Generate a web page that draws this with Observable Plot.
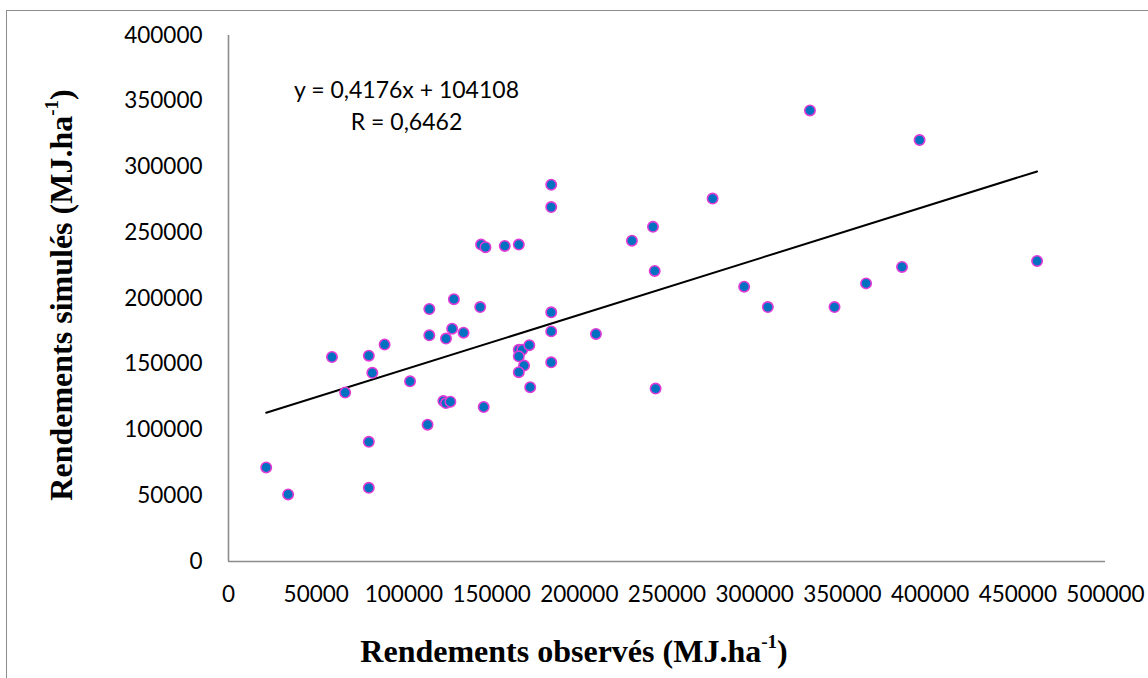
<!DOCTYPE html>
<html><head><meta charset="utf-8">
<script src="https://cdn.jsdelivr.net/npm/d3@7"></script>
<script src="https://cdn.jsdelivr.net/npm/@observablehq/plot@0.6"></script>
<style>
html,body{margin:0;padding:0;background:#fff;}
#wrap{position:relative;width:1148px;height:678px;overflow:hidden;}
#frame{position:absolute;left:6px;top:10px;width:2000px;height:2000px;border-left:1.5px solid #8c8c8c;border-top:1.5px solid #8c8c8c;box-sizing:border-box;}
#chart{position:absolute;left:0;top:0;}
</style></head><body>
<div id="wrap"><div id="frame"></div><div id="chart"></div></div>
<script>
// Observed yields (x) and simulated yields (y), MJ.ha-1
const observed = [21500, 34000, 80000, 80000, 66500, 59000, 80000, 82000, 89000, 103500,
  113500, 114500, 114500, 122500, 124000, 126500, 124000, 127500, 128500, 134000,
  143500, 145500, 165500, 167500, 165500, 171500, 168500, 165500, 172000, 184000,
  184000, 184000, 209500, 184000, 184000, 144000, 146500, 157500, 165500, 230000,
  242000, 243000, 243500, 276000, 331500, 394000, 461000, 384000, 363500, 345500,
  307500, 294000];
const simulated = [71500, 51000, 56000, 91000, 128500, 155500, 156500, 143500, 165000, 137000,
  104000, 172000, 192000, 122000, 120500, 121500, 169500, 177000, 199500, 174000,
  193500, 117500, 161000, 161000, 156000, 164500, 149000, 144000, 132500, 189500,
  175000, 151500, 173000, 286500, 269500, 241000, 239000, 240000, 241000, 244000,
  254500, 221000, 131500, 276000, 343000, 320500, 228500, 224000, 211500, 193500,
  193500, 209000];
const xTicks = [0, 50000, 100000, 150000, 200000, 250000, 300000, 350000, 400000, 450000, 500000];
const yTicks = [0, 50000, 100000, 150000, 200000, 250000, 300000, 350000, 400000];
const trendSlope = 0.4176;
const trendIntercept = 104108;
const equationText = "y = 0,4176x + 104108";
const rText = "R = 0,6462";
const xTitleText = "Rendements observés (MJ.ha";
const yTitleText = "Rendements simulés (MJ.ha";
const unitExponent = "-1";

const points = observed.map((x, i) => ({x, y: simulated[i]}));
const xExtent = d3.extent(observed);
const trend = xExtent.map(x => ({x, y: trendSlope * x + trendIntercept}));

const chart = Plot.plot({
  width: 1148,
  height: 678,
  marginLeft: 228,
  marginRight: 43,
  marginTop: 35,
  marginBottom: 117,
  x: {domain: [0, 500000]},
  y: {domain: [0, 400000]},
  style: {fontFamily: "Lato, 'Open Sans', sans-serif", fontSize: "22.5px", color: "#000", background: "transparent", overflow: "visible"},
  marks: [
    Plot.axisX({ticks: xTicks, tickSize: 0, tickPadding: 25, tickFormat: d => String(d), label: null, fill: "#000"}),
    Plot.axisY({ticks: yTicks, tickSize: 0, tickPadding: 26, tickFormat: d => String(d), label: null, fill: "#000"}),
    Plot.ruleY([0], {stroke: "#8c8c8c", strokeWidth: 1.6}),
    Plot.ruleX([0], {stroke: "#8c8c8c", strokeWidth: 1.6}),
    Plot.line(trend, {x: "x", y: "y", stroke: "#000", strokeWidth: 2}),
    Plot.dot(points, {x: "x", y: "y", r: 5.2, fill: "#0070c0", stroke: "#e03ad8", strokeWidth: 1.6}),
    Plot.text([equationText + "\n" + rText], {
      frameAnchor: "top-left", dx: 178, dy: 40, textAnchor: "middle", lineAnchor: "top",
      lineHeight: 1.39, fontSize: 23, fill: "#000"
    })
  ]
});
document.getElementById("chart").appendChild(chart);

const svg = d3.select(chart);
function addTitle(sel, txt) {
  sel.attr("font-family", "'Liberation Serif', 'Times New Roman', serif")
     .attr("font-weight", "bold").attr("font-size", 32).attr("fill", "#000")
     .attr("text-anchor", "middle");
  sel.append("tspan").text(txt);
  sel.append("tspan").attr("font-size", 19).attr("dy", "-0.75em").text(unitExponent);
  sel.append("tspan").attr("dy", "0.45em").text(")");
}
addTitle(svg.append("text").attr("x", 574).attr("y", 662), xTitleText);
addTitle(svg.append("text").attr("transform", "translate(72,295) rotate(-90)"), yTitleText);
</script>
</body></html>
